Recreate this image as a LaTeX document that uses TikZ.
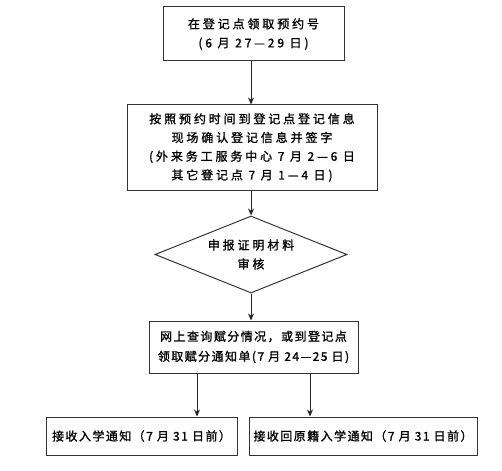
\documentclass[tikz,border=0pt]{standalone}
\usepackage{fontspec}
\usetikzlibrary{shapes.geometric,arrows.meta}
\newfontfamily\cjkwide[LetterSpace=24,FakeBold=1.2]{Noto Sans CJK SC}
\newfontfamily\cjknarrow[LetterSpace=12,FakeBold=1.2]{Noto Sans CJK SC}
\begin{document}
\begin{tikzpicture}[x=1pt,y=-1pt,
  box/.style={draw=black!80, line width=1pt, inner sep=0pt, align=center, text=black},
  wide/.style={font=\cjkwide\fontsize{12}{19}\selectfont},
  narrow/.style={font=\cjknarrow\fontsize{12}{20}\selectfont},
  arr/.style={draw=black!85, line width=1pt, -{Stealth[length=7pt,width=6pt]}}]
\useasboundingbox[fill=white] (0,0) rectangle (502,470);
\node[box, wide, minimum width=181pt, minimum height=54pt] (b1) at (253.5,34)
  {在登记点领取预约号\\(6 月 27—29 日)};
\node[box, wide, minimum width=250pt, minimum height=85pt, font=\cjkwide\fontsize{12}{18.7}\selectfont] (b2) at (252,147.5)
  {按照预约时间到登记点登记信息\\现场确认登记信息并签字\\(外来务工服务中心 7 月 2—6 日\\其它登记点 7 月 1—4 日)};
\node[box, wide, shape=diamond, minimum width=192pt, minimum height=77pt, shape aspect=2.5] (d) at (251,254.5)
  {申报证明材料\\审核};
\node[box, narrow, minimum width=209pt, minimum height=52pt] (b3) at (253.5,347)
  {网上查询赋分情况，或到登记点\\领取赋分通知单(7 月 24—25 日)};
\node[box, narrow, minimum width=191pt, minimum height=38pt] (b4) at (141.5,436)
  {接收入学通知（7 月 31 日前）};
\node[box, narrow, minimum width=228pt, minimum height=38pt] (b5) at (363,436)
  {接收回原籍入学通知（7 月 31 日前）};
\coordinate (s1) at (197,373);
\coordinate (s2) at (310,373);
\draw[arr] (b1.south -| d.center) -- (b2.north -| d.center);
\draw[arr] (b2.south -| d.center) -- (d.north);
\draw[arr] (d.south) -- (b3.north -| d.center);
\draw[arr] (s1) -- (s1 |- b4.north);
\draw[arr] (s2) -- (s2 |- b5.north);
\end{tikzpicture}
\end{document}
